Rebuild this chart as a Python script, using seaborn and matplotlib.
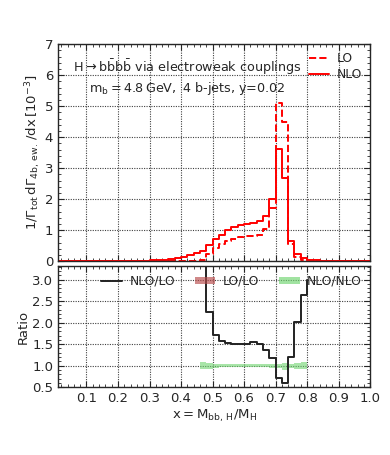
import numpy as np
import pandas as pd
import matplotlib
matplotlib.use("Agg")
import matplotlib.pyplot as plt
import seaborn as sns
from matplotlib.lines import Line2D
from matplotlib.patches import Patch
from matplotlib.ticker import MultipleLocator

# histogram bins of width 0.02 from 0 to 1
bin_edges = [round(0.02 * i, 2) for i in range(51)]

nlo = [0.01, 0.01, 0.01, 0.01, 0.01, 0.01, 0.01, 0.01, 0.01, 0.01,
       0.01, 0.01, 0.01, 0.015, 0.02, 0.025, 0.035, 0.05, 0.07, 0.10,
       0.13, 0.19, 0.25, 0.33, 0.52, 0.70, 0.86, 1.00, 1.10, 1.17,
       1.20, 1.23, 1.28, 1.45, 1.99, 3.62, 2.67, 0.65, 0.24, 0.10,
       0.05, 0.03, 0.02, 0.02, 0.015, 0.015, 0.01, 0.01, 0.01, 0.01]

lo = [0.005, 0.005, 0.005, 0.005, 0.005, 0.005, 0.005, 0.005, 0.005, 0.005,
      0.005, 0.005, 0.005, 0.005, 0.005, 0.005, 0.005, 0.005, 0.005, 0.005,
      0.005, 0.01, 0.02, 0.05, 0.23, 0.41, 0.55, 0.66, 0.73, 0.77,
      0.80, 0.80, 0.85, 1.05, 1.70, 5.10, 4.50, 0.55, 0.12, 0.04,
      0.015, 0.005, 0.005, 0.005, 0.005, 0.005, 0.005, 0.005, 0.005, 0.005]

# ratio panel, bins 0.46 .. 0.80
ratio_edges = [round(0.46 + 0.02 * i, 2) for i in range(18)]
nlo_over_lo = [6.0, 2.25, 1.72, 1.58, 1.52, 1.51, 1.51, 1.51, 1.54,
               1.50, 1.37, 1.17, 0.71, 0.60, 1.20, 2.02, 2.65]
nlo_over_lo_end = 3.0
band_up = [1.08, 1.07, 1.05, 1.045, 1.045, 1.04, 1.045, 1.045, 1.045,
           1.04, 1.045, 1.04, 1.05, 1.06, 1.05, 1.07, 1.08]
band_lo = [0.92, 0.93, 0.955, 0.96, 0.96, 0.96, 0.96, 0.96, 0.96,
           0.96, 0.96, 0.955, 0.95, 0.91, 0.95, 0.93, 0.92]

sns.set_style("ticks")
plt.rcParams['font.family'] = ['DejaVu Sans']
plt.rcParams['font.size'] = 9.5
plt.rcParams['mathtext.fontset'] = 'dejavusans'

fig = plt.figure(figsize=(3.9, 4.55), dpi=100)
ax = fig.add_axes([0.149, 0.426, 0.80, 0.477])
axr = fig.add_axes([0.149, 0.149, 0.80, 0.266])

hist = pd.DataFrame({"x": bin_edges, "NLO": nlo + [nlo[-1]], "LO": lo + [lo[-1]]})
sns.lineplot(data=hist, x="x", y="LO", ax=ax, color="red", lw=1.4,
             linestyle="--", drawstyle="steps-post", label="LO")
sns.lineplot(data=hist, x="x", y="NLO", ax=ax, color="red", lw=1.4,
             drawstyle="steps-post", label="NLO")

ax.text(0.413, 0.894, r"$\mathrm{H\rightarrow b\bar{b}b\bar{b}}$ via electroweak couplings",
        transform=ax.transAxes, ha="center", va="center", fontsize=9.2)
ax.text(0.413, 0.797, r"$\mathrm{m_b = 4.8\,GeV,}$ 4 b-jets, y=0.02",
        transform=ax.transAxes, ha="center", va="center", fontsize=9.2)

ax.set_xlim(0.01, 1.0)
ax.set_ylim(0, 7)
ax.set_xlabel("")
ax.set_ylabel(r"$1/\Gamma_{\rm tot}\,\mathrm{d}\Gamma_{\rm 4b,\,ew.}\,/\mathrm{dx}\,[10^{-3}]$",
              labelpad=1)
ax.tick_params(labelbottom=False)
ax.legend(loc="upper right", frameon=False, handlelength=1.7, handletextpad=0.6,
          borderaxespad=0.25, labelspacing=0.25, fontsize=8.8)

# ratio panel
r = pd.DataFrame({"x": ratio_edges, "r": nlo_over_lo + [nlo_over_lo_end]})
axr.fill_between(ratio_edges, band_lo + [band_lo[-1]], band_up + [band_up[-1]],
                 step="post", color="#6fd46f", alpha=0.6, lw=0)
sns.lineplot(data=r, x="x", y="r", ax=axr, color="#222222", lw=1.4,
             drawstyle="steps-post")
axr.set_xlim(0.01, 1.0)
axr.set_ylim(0.5, 3.31)
axr.set_ylabel("Ratio", labelpad=2)
axr.set_xlabel(r"$\mathrm{x = M_{bb,\,H}/M_{H}}$", labelpad=2)
axr.yaxis.set_major_locator(MultipleLocator(0.5))
axr.yaxis.set_minor_locator(MultipleLocator(0.1))
handles = [Line2D([], [], color="#222222", lw=1.4),
           Patch(color="#b84a4a", alpha=0.65, lw=0),
           Patch(color="#6fd46f", alpha=0.65, lw=0)]
axr.legend(handles, ["NLO/LO", "LO/LO", "NLO/NLO"], loc="upper center", ncol=3,
           frameon=False, handlelength=1.7, handleheight=0.55, handletextpad=0.6,
           columnspacing=1.6, borderaxespad=0.3, bbox_to_anchor=(0.556, 1.0),
           fontsize=8.8)

for a in (ax, axr):
    a.xaxis.set_major_locator(MultipleLocator(0.1))
    a.xaxis.set_minor_locator(MultipleLocator(0.02))
    a.tick_params(which="both", direction="in", top=True, right=True)
    a.tick_params(which="major", length=4)
    a.tick_params(which="minor", length=2)
    a.grid(True, which="major", color="0.25", ls=(0, (1, 1.2)), lw=0.8)
    for s in a.spines.values():
        s.set_linewidth(1.0)
ax.yaxis.set_major_locator(MultipleLocator(1))
ax.yaxis.set_minor_locator(MultipleLocator(0.2))
axr.set_xticks([0.1, 0.2, 0.3, 0.4, 0.5, 0.6, 0.7, 0.8, 0.9, 1.0])

fig.savefig("out.png", dpi=100)
